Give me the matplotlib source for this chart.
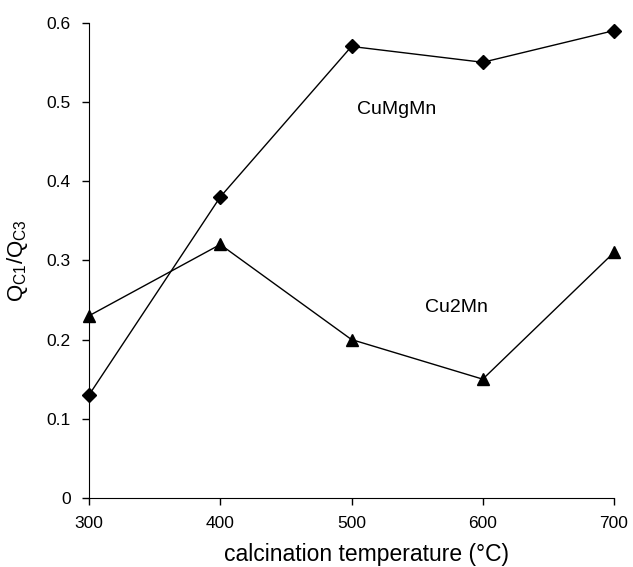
import matplotlib
matplotlib.use("Agg")
import matplotlib.pyplot as plt

plt.rcParams['font.family'] = ['Liberation Sans', 'DejaVu Sans']
plt.rcParams['mathtext.fontset'] = 'custom'
plt.rcParams['mathtext.rm'] = 'Liberation Sans'

temps = [300, 400, 500, 600, 700]
cumgmn = [0.13, 0.38, 0.57, 0.55, 0.59]
cu2mn = [0.23, 0.32, 0.20, 0.15, 0.31]

fig = plt.figure(figsize=(6.33, 5.67), dpi=100)
ax = fig.add_axes([0.1406, 0.1217, 0.8294, 0.8383])

ax.plot(temps, cumgmn, color='black', lw=1, marker='D', ms=7, mfc='black', clip_on=False, zorder=3)
ax.plot(temps, cu2mn, color='black', lw=1, marker='^', ms=9, mfc='black', clip_on=False, zorder=3)

ax.text(534, 0.49, 'CuMgMn', ha='center', va='center', fontsize=14)
ax.text(580, 0.240, 'Cu2Mn', ha='center', va='center', fontsize=14)

ax.set_xlim(300, 700)
ax.set_ylim(0, 0.6)
ax.set_xticks(temps)
ax.set_yticks([0, 0.1, 0.2, 0.3, 0.4, 0.5, 0.6])
ax.set_yticklabels(['0', '0.1', '0.2', '0.3', '0.4', '0.5', '0.6'])
ax.tick_params(axis='both', direction='out', length=5, width=1, labelsize=12.5, colors='black')
ax.tick_params(axis='x', pad=8)
ax.tick_params(axis='y', pad=8)
ax.spines['top'].set_visible(False)
ax.spines['right'].set_visible(False)

ax.set_xlabel('calcination temperature (°C)', fontsize=16.5)
ax.xaxis.set_label_coords(0.528, -0.095)
ax.set_ylabel(r'Q$\mathregular{_{C1}}$/Q$\mathregular{_{C3}}$', fontsize=16, labelpad=12)

fig.savefig('out.png', dpi=100)
